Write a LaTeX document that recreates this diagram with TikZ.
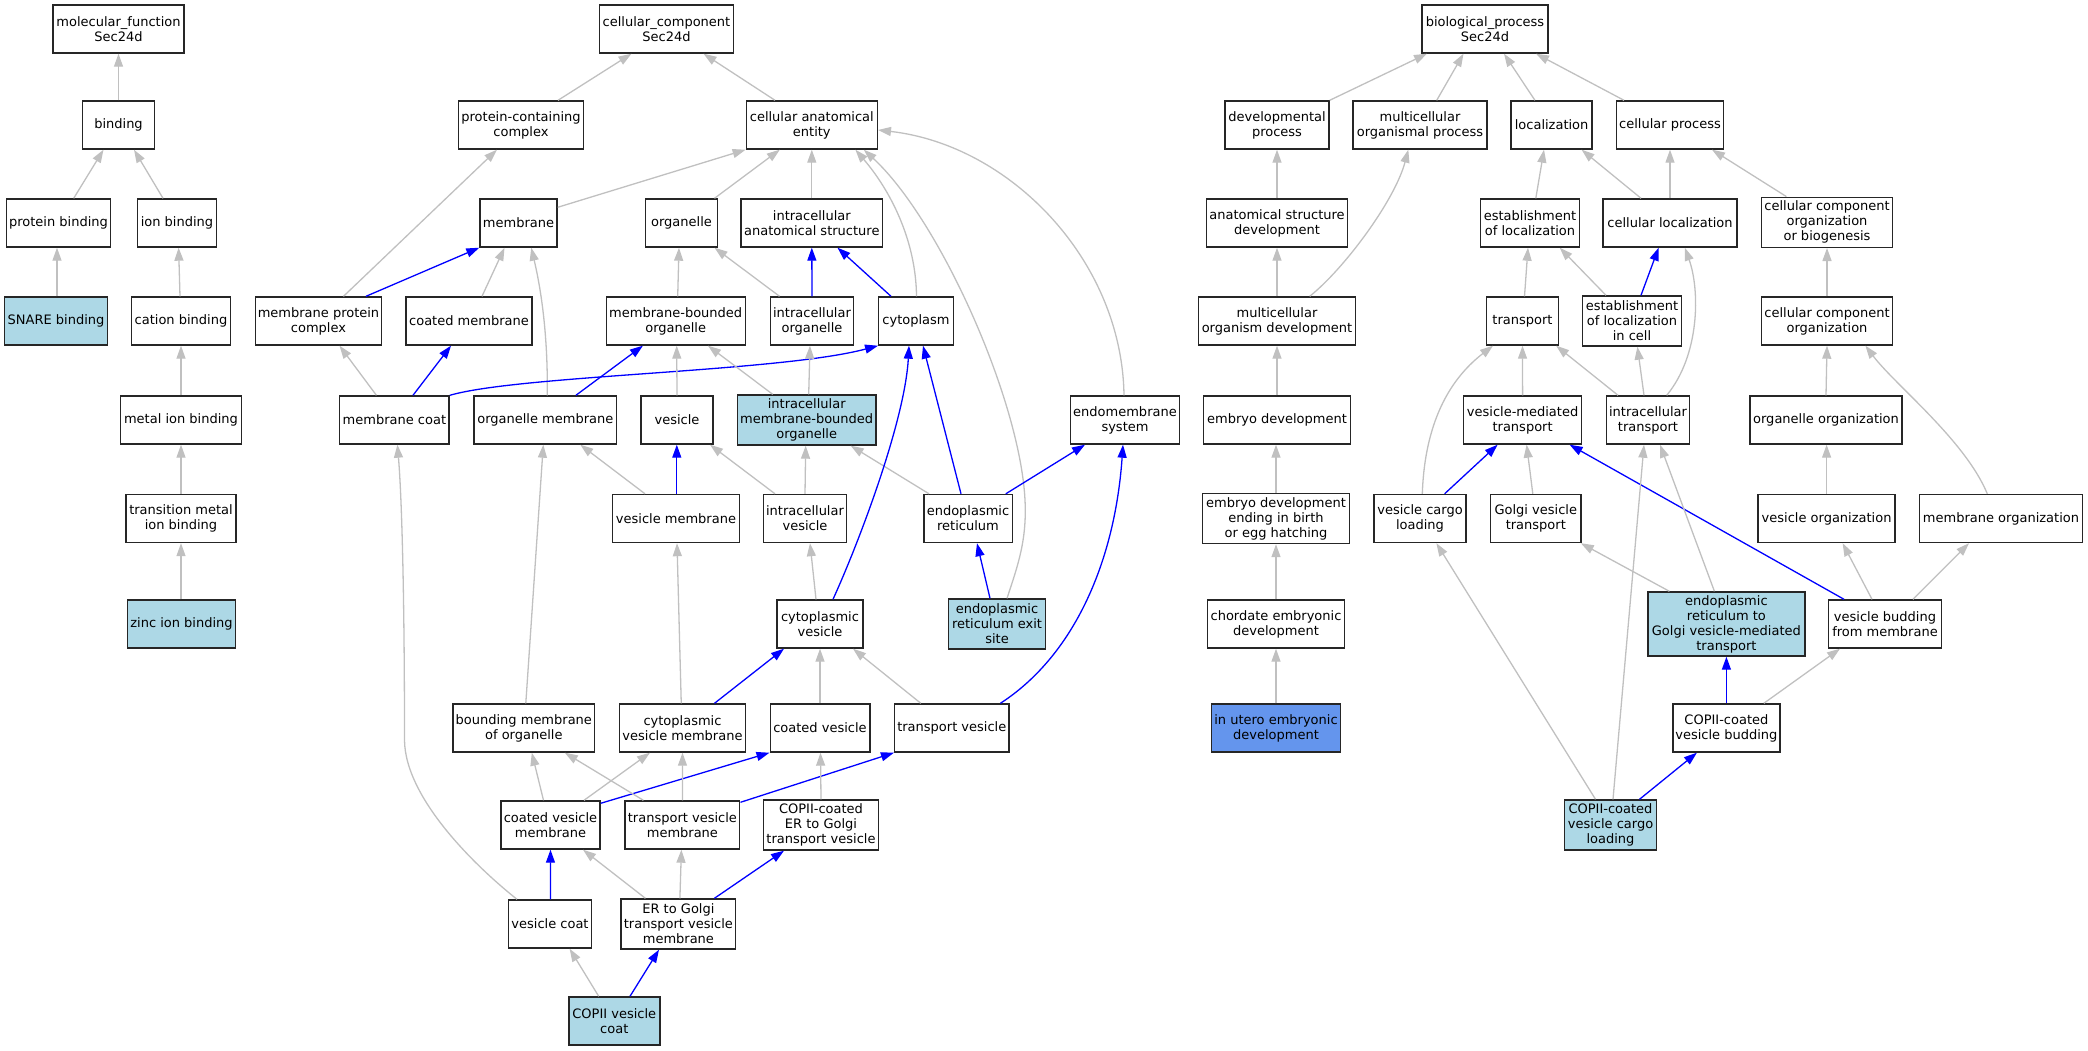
\documentclass[tikz,border=0pt]{standalone}
\usepackage{fontspec}
\setmainfont{DejaVu Sans}
\usetikzlibrary{arrows.meta}
\definecolor{lb}{HTML}{ADD8E6}
\definecolor{cfb}{HTML}{6495ED}
\definecolor{eg}{HTML}{C0C0C0}
\tikzset{
  box/.style={draw=black!85, line width=1.4pt, fill=white, minimum height=48pt, inner sep=1pt, align=center, font=\fontsize{13}{15}\selectfont},
  hl/.style={fill=lb},
  hd/.style={fill=cfb},
  gedge/.style={draw=eg, line width=1.3pt, -{Triangle[length=13pt,width=9pt]}},
  bedge/.style={draw=blue, line width=1.3pt, -{Triangle[length=13pt,width=9pt]}},
}
\newcommand\edgeG[4]{\draw[gedge] ([xshift=#2pt]#1.north) -- ([xshift=#4pt]#3.south);}
\newcommand\edgeB[4]{\draw[bedge] ([xshift=#2pt]#1.north) -- ([xshift=#4pt]#3.south);}
\begin{document}
\begin{tikzpicture}[x=1pt,y=-1pt]
\useasboundingbox (0,0) rectangle (2088,1051);
% ---------------- molecular function
\node[box,minimum width=131pt] (mf) at (118.5,29) {molecular\_function\\Sec24d};
\node[box,minimum width=72pt] (binding) at (118.5,125) {binding};
\node[box,minimum width=104pt] (protbind) at (58.5,223) {protein binding};
\node[box,minimum width=78.5pt] (ionbind) at (177,223) {ion binding};
\node[box,hl,minimum width=103pt] (snare) at (56,321) {SNARE binding};
\node[box,minimum width=99pt] (cation) at (181,321) {cation binding};
\node[box,minimum width=120.5pt] (metal) at (181,420) {metal ion binding};
\node[box,minimum width=110pt] (transmetal) at (181,518.5) {transition metal\\ion binding};
\node[box,hl,minimum width=107.6pt] (zinc) at (181.5,624) {zinc ion binding};
% ---------------- cellular component
\node[box,minimum width=134pt] (cc) at (666.5,29) {cellular\_component\\Sec24d};
\node[box,minimum width=125pt] (pcc) at (521,125) {protein-containing\\complex};
\node[box,minimum width=131pt] (cae) at (811.8,125) {cellular anatomical\\entity};
\node[box,minimum width=77pt] (membrane) at (518.5,223) {membrane};
\node[box,minimum width=72pt] (organelle) at (681.5,223) {organelle};
\node[box,minimum width=141.5pt] (ias) at (811.8,223) {intracellular\\anatomical structure};
\node[box,minimum width=126pt] (mpc) at (318.5,321) {membrane protein\\complex};
\node[box,minimum width=126pt] (cmem) at (469,321) {coated membrane};
\node[box,minimum width=139pt] (mbo) at (675.7,321) {membrane-bounded\\organelle};
\node[box,minimum width=83.5pt] (io) at (812,321) {intracellular\\organelle};
\node[box,minimum width=74.5pt] (cyto) at (916,321) {cytoplasm};
\node[box,minimum width=109.4pt] (mcoat) at (394.4,420) {membrane coat};
\node[box,minimum width=142.4pt] (omem) at (545.3,420) {organelle membrane};
\node[box,minimum width=72pt] (vesicle) at (677,420) {vesicle};
\node[box,hl,minimum width=138.4pt,minimum height=50pt] (imbo) at (806.7,420) {intracellular\\membrane-bounded\\organelle};
\node[box,minimum width=109.4pt] (endo) at (1125,420) {endomembrane\\system};
\node[box,minimum width=127pt] (vmem) at (676,518.5) {vesicle membrane};
\node[box,minimum width=83.5pt] (ivesicle) at (805,518.5) {intracellular\\vesicle};
\node[box,minimum width=88.4pt] (er) at (968,518.5) {endoplasmic\\reticulum};
\node[box,minimum width=86pt] (cves) at (820,624) {cytoplasmic\\vesicle};
\node[box,hl,minimum width=97pt,minimum height=50pt] (eres) at (997,624) {endoplasmic\\reticulum exit\\site};
\node[box,minimum width=141.5pt] (bmo) at (523.8,728) {bounding membrane\\of organelle};
\node[box,minimum width=126pt] (cvm) at (682.5,728) {cytoplasmic\\vesicle membrane};
\node[box,minimum width=99.6pt] (coatves) at (820,728) {coated vesicle};
\node[box,minimum width=114.3pt] (tves) at (951.8,728) {transport vesicle};
\node[box,minimum width=99pt] (cvmem) at (550.5,825) {coated vesicle\\membrane};
\node[box,minimum width=114.7pt] (tvm) at (682.4,825) {transport vesicle\\membrane};
\node[box,minimum width=114.7pt,minimum height=50pt] (copiives) at (821,825) {COPII-coated\\ER to Golgi\\transport vesicle};
\node[box,minimum width=83.5pt] (vcoat) at (550,924) {vesicle coat};
\node[box,minimum width=114.7pt,minimum height=50pt] (ergtvm) at (678.4,924) {ER to Golgi\\transport vesicle\\membrane};
\node[box,hl,minimum width=91pt] (copiicoat) at (614.3,1021) {COPII vesicle\\coat};
% ---------------- biological process
\node[box,minimum width=126pt] (bp) at (1485,29) {biological\_process\\Sec24d};
\node[box,minimum width=104pt] (devp) at (1277,125) {developmental\\process};
\node[box,minimum width=133.7pt] (mop) at (1420,125) {multicellular\\organismal process};
\node[box,minimum width=81pt] (loc) at (1551.6,125) {localization};
\node[box,minimum width=107.5pt] (cellp) at (1670,125) {cellular process};
\node[box,minimum width=141.5pt] (asd) at (1277,223) {anatomical structure\\development};
\node[box,minimum width=99pt] (eol) at (1530,223) {establishment\\of localization};
\node[box,minimum width=134pt] (cloc) at (1670,223) {cellular localization};
\node[box,minimum width=130.5pt,minimum height=50pt] (ccob) at (1827,222.3) {cellular component\\organization\\or biogenesis};
\node[box,minimum width=157.3pt] (mod) at (1277,321) {multicellular\\organism development};
\node[box,minimum width=72pt] (transport) at (1522.5,321) {transport};
\node[box,minimum width=98.5pt,minimum height=50pt] (eolc) at (1632,321) {establishment\\of localization\\in cell};
\node[box,minimum width=130.5pt] (cco) at (1827,321) {cellular component\\organization};
\node[box,minimum width=147pt] (embryo) at (1277,420) {embryo development};
\node[box,minimum width=118pt] (vmt) at (1522.6,420) {vesicle-mediated\\transport};
\node[box,minimum width=83.5pt] (itrans) at (1648,420) {intracellular\\transport};
\node[box,minimum width=152pt] (oorg) at (1826,420) {organelle organization};
\node[box,minimum width=147pt,minimum height=50pt] (edeb) at (1276,518.5) {embryo development\\ending in birth\\or egg hatching};
\node[box,minimum width=91.7pt] (vcl) at (1420,518.5) {vesicle cargo\\loading};
\node[box,minimum width=90.3pt] (gvt) at (1535.8,518.5) {Golgi vesicle\\transport};
\node[box,minimum width=137pt] (vorg) at (1826.6,518.5) {vesicle organization};
\node[box,minimum width=162.5pt] (morg) at (2001,518.5) {membrane organization};
\node[box,minimum width=136.6pt] (ced) at (1276,624) {chordate embryonic\\development};
\node[box,hl,minimum width=157pt,minimum height=64pt] (ergvmt) at (1726.4,624) {endoplasmic\\reticulum to\\Golgi vesicle-mediated\\transport};
\node[box,minimum width=112.5pt] (vbud) at (1885,624) {vesicle budding\\from membrane};
\node[box,hd,minimum width=129pt] (iued) at (1276,728) {in utero embryonic\\development};
\node[box,minimum width=107pt] (copiibud) at (1726.4,728) {COPII-coated\\vesicle budding};
\node[box,hl,minimum width=91.5pt,minimum height=50pt] (copiicargo) at (1610.5,825) {COPII-coated\\vesicle cargo\\loading};
% ---------------- MF edges
\edgeG{binding}{0}{mf}{0}
\edgeG{protbind}{15.2}{binding}{-15}
\edgeG{ionbind}{-14}{binding}{15.5}
\edgeG{snare}{1}{protbind}{-1.5}
\edgeG{cation}{-1}{ionbind}{1.6}
\edgeG{metal}{0}{cation}{0}
\edgeG{transmetal}{0}{metal}{0}
\edgeG{zinc}{-0.5}{transmetal}{0}
% ---------------- CC edges
\edgeG{pcc}{37}{cc}{-35}
\edgeG{cae}{-36.8}{cc}{37}
\edgeG{mpc}{25}{pcc}{-24}
\draw[bedge] ([xshift=47.5pt]mpc.north) -- (membrane.south west);
\edgeG{cmem}{13}{membrane}{-14}
\draw[gedge] ([xshift=2pt]omem.north) .. controls (548,330) and (540,285) .. ([xshift=12.75pt]membrane.south);
\draw[gedge] ([yshift=-9pt]membrane.north east) -- (cae.south west);
\edgeG{organelle}{33}{cae}{-32}
\edgeG{ias}{0}{cae}{0}
\draw[gedge] ([xshift=0.5pt]cyto.north) .. controls (916,240) and (890,190) .. ([xshift=43.6pt]cae.south);
\draw[gedge] ([xshift=10pt]eres.north) .. controls (1018,565) and (1027,540) .. (1025,500) .. controls (1020,400) and (940,220) .. ([xshift=52pt]cae.south);
\draw[gedge] ([xshift=-1pt]endo.north) .. controls (1122,260) and (1010,145) .. ([yshift=-5pt]cae.east);
\edgeG{mbo}{2}{organelle}{-2.5}
\edgeG{io}{-32.5}{organelle}{33}
\edgeB{io}{0}{ias}{0}
\edgeB{cyto}{-25}{ias}{25.7}
\edgeB{mcoat}{18.6}{cmem}{-18}
\edgeG{mcoat}{-18}{mpc}{21}
\draw[bedge] (mcoat.north east) .. controls (520,375) and (780,372) .. (cyto.south west);
\edgeB{omem}{30.6}{mbo}{-32.8}
\edgeG{vesicle}{0}{mbo}{1}
\edgeG{imbo}{-34}{mbo}{32.3}
\edgeG{imbo}{2}{io}{-2}
\edgeB{vmem}{0.8}{vesicle}{-0.2}
\edgeG{vmem}{-31}{omem}{35}
\edgeG{ivesicle}{-30}{vesicle}{33}
\edgeG{ivesicle}{0}{imbo}{-1}
\edgeG{er}{-39}{imbo}{44}
\edgeB{er}{-7}{cyto}{7}
\edgeB{er}{37.8}{endo}{-40}
\draw[bedge] ([xshift=13pt]cves.north) .. controls (860,540) and (905,420) .. ([xshift=-7pt]cyto.south);
\edgeG{cves}{-4}{ivesicle}{5}
\edgeB{eres}{-7}{er}{9}
\edgeB{cvm}{32}{cves}{-36}
\edgeG{cvm}{-1.25}{vmem}{1}
\edgeG{coatves}{0}{cves}{0}
\edgeG{tves}{-31}{cves}{33}
\draw[bedge] ([xshift=48.6pt]tves.north) .. controls (1075,655) and (1115,560) .. ([xshift=-2pt]endo.south);
\edgeG{bmo}{2}{omem}{-2}
\edgeG{cvmem}{-7}{bmo}{8}
\edgeG{cvmem}{33.5}{cvm}{-32.5}
\draw[bedge] ([yshift=-3pt]cvmem.north east) -- (coatves.south west);
\edgeG{tvm}{-39}{bmo}{41}
\edgeG{tvm}{0}{cvm}{0}
\draw[bedge] ([yshift=-2pt]tvm.north east) -- (tves.south west);
\edgeG{copiives}{0}{coatves}{0.5}
\edgeB{vcoat}{0.4}{cvmem}{0}
\draw[gedge] ([xshift=-33pt]vcoat.north) .. controls (480,870) and (405,800) .. (404.5,740) .. controls (404.5,600) and (402,500) .. ([xshift=3pt]mcoat.south);
\edgeG{ergtvm}{-33}{cvmem}{32.5}
\edgeG{ergtvm}{1.5}{tvm}{-1}
\edgeB{ergtvm}{36}{copiives}{-37}
\edgeG{copiicoat}{-15.6}{vcoat}{19.6}
\edgeB{copiicoat}{15.7}{ergtvm}{-19.4}
% ---------------- BP edges
\draw[gedge] (devp.north east) -- ([xshift=-58pt]bp.south);
\edgeG{mop}{16.7}{bp}{-21.5}
\edgeG{loc}{-16.7}{bp}{19}
\edgeG{cellp}{-46}{bp}{51}
\edgeG{asd}{0}{devp}{0}
\edgeG{mod}{0}{asd}{0}
\draw[gedge] ([xshift=32.7pt]mod.north) .. controls (1345,268) and (1395,200) .. ([xshift=-11.7pt]mop.south);
\edgeG{embryo}{0}{mod}{0}
\edgeG{edeb}{0}{embryo}{-1}
\edgeG{ced}{0}{edeb}{0}
\edgeG{iued}{0}{ced}{0}
\edgeG{eol}{5.8}{loc}{-7.6}
\edgeG{cloc}{-29}{loc}{30}
\edgeG{cloc}{0}{cellp}{0}
\edgeG{ccob}{-40.6}{cellp}{42}
\edgeG{transport}{2}{eol}{-2}
\edgeG{eolc}{-26}{eol}{29.7}
\edgeB{eolc}{9}{cloc}{-11.4}
\edgeG{cco}{0}{ccob}{0}
\edgeG{vmt}{0}{transport}{0}
\edgeG{itrans}{-30}{transport}{33.6}
\edgeG{itrans}{-4}{eolc}{5.4}
\draw[gedge] ([xshift=18.7pt]itrans.north) .. controls (1700,355) and (1700,290) .. ([xshift=14.8pt]cloc.south);
\draw[gedge] ([xshift=2.3pt]vcl.north) .. controls (1425,415) and (1455,375) .. ([xshift=-29.5pt]transport.south);
\edgeG{oorg}{0}{cco}{0}
\draw[gedge] ([xshift=-13.7pt]morg.north) .. controls (1965,440) and (1895,385) .. ([xshift=38.4pt]cco.south);
\edgeB{vcl}{24.6}{vmt}{-25}
\edgeG{gvt}{-3}{vmt}{4}
\edgeB{vbud}{-41}{vmt}{47}
\edgeG{ergvmt}{-57}{gvt}{45}
\edgeG{ergvmt}{-12}{itrans}{12}
\edgeG{vorg}{0}{oorg}{0.6}
\edgeG{vbud}{-13}{vorg}{16}
\edgeG{vbud}{28}{morg}{-32}
\edgeB{copiibud}{0}{ergvmt}{0}
\edgeG{copiibud}{37.4}{vbud}{-45}
\edgeG{copiicargo}{-15}{vcl}{16.4}
\edgeG{copiicargo}{2.5}{itrans}{-4}
\edgeB{copiicargo}{29}{copiibud}{-29.5}
\end{tikzpicture}
\end{document}
